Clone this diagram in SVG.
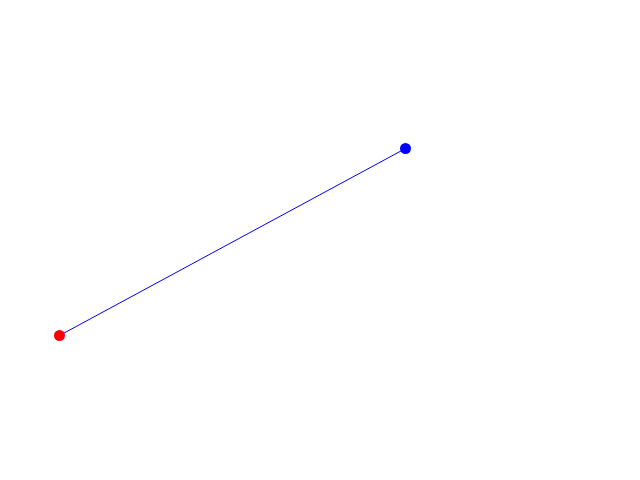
<svg xmlns="http://www.w3.org/2000/svg" width="640" height="480" viewBox="0 0 640 480">
<rect width="640" height="480" fill="#ffffff"/>
<g id="connectors">
<line x1="59.5" y1="335.5" x2="405.5" y2="148.5" stroke="#0000ff" stroke-width="1"/>
</g>
<g id="start"><circle cx="59.5" cy="335.5" r="5.5" fill="#ff0000"/></g>
<g id="end"><circle cx="405.5" cy="148.5" r="5.5" fill="#0000ff"/></g>
</svg>
